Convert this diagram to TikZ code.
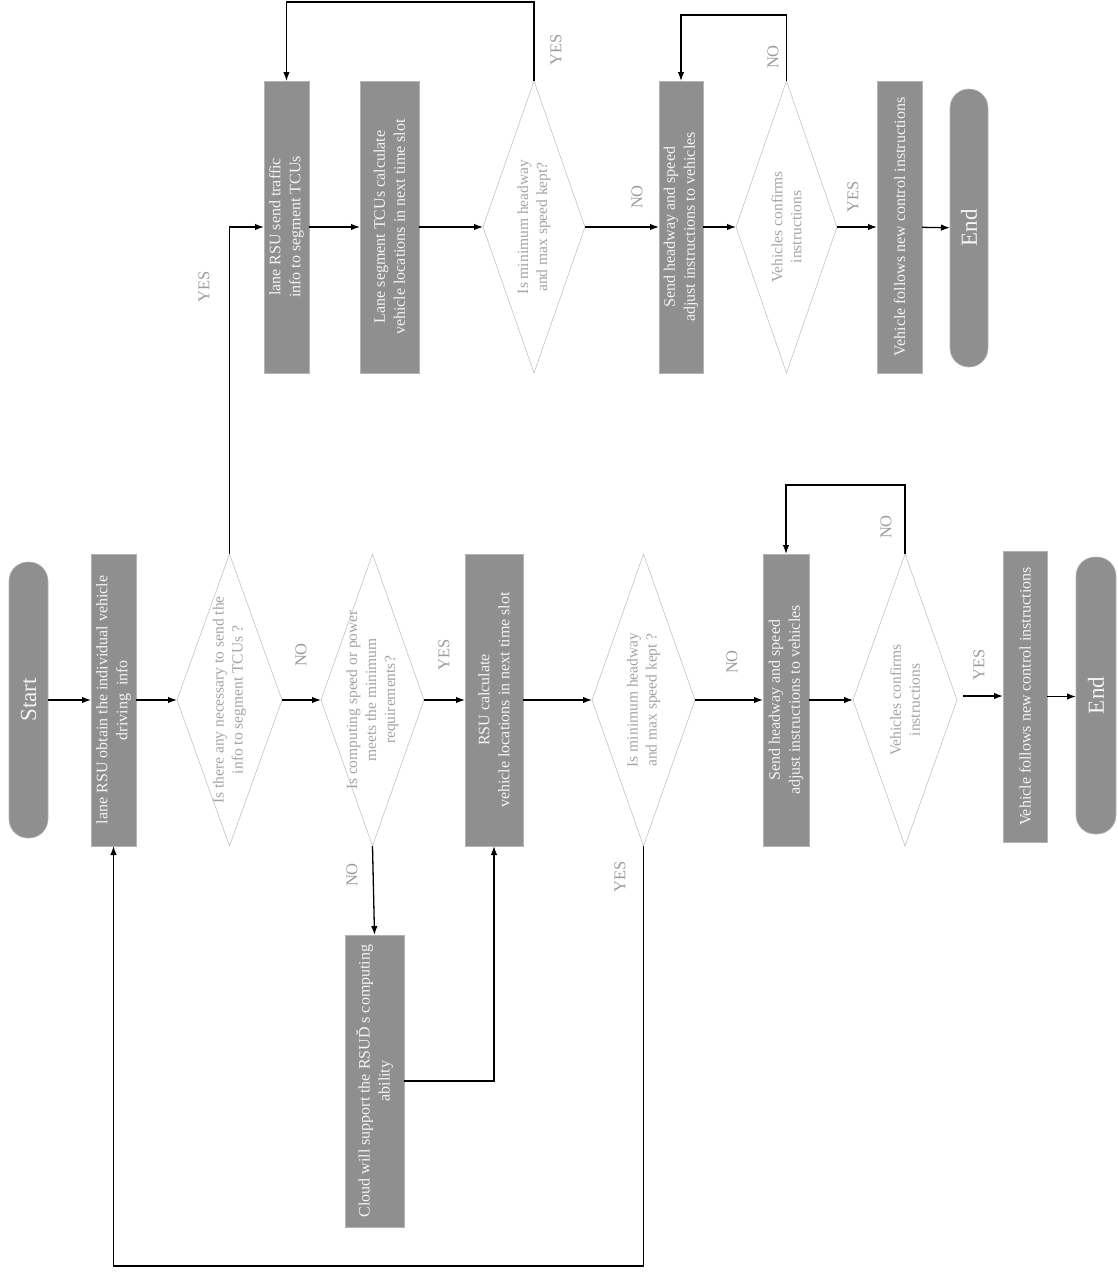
\documentclass[tikz,border=0pt]{standalone}
\usepackage{fontspec}
\setmainfont{Liberation Serif}
\usetikzlibrary{shapes.geometric,arrows.meta}
\definecolor{boxgray}{HTML}{8F8F8F}
\definecolor{boxedge}{HTML}{B4B4B4}
\definecolor{boxtext}{HTML}{F4F4F4}
\definecolor{diaedge}{HTML}{C4C4C4}
\definecolor{diatext}{HTML}{A4A4A4}
\definecolor{lblgray}{HTML}{9C9C9C}
\tikzset{
  procbox/.style={rectangle, fill=boxgray, draw=boxedge, line width=0.8pt, inner sep=0pt, outer sep=0pt},
  termbox/.style={rectangle, fill=boxgray, draw=boxedge, line width=0.6pt, inner sep=0pt, outer sep=0pt, rounded corners=19pt},
  decbox/.style={diamond, draw=diaedge, fill=white, line width=0.6pt, inner sep=0pt, outer sep=0pt},
  btxt/.style={rotate=90, text=boxtext, align=center, inner sep=0pt, font=\fontsize{16}{20}\selectfont},
  dtxt/.style={rotate=90, text=diatext, align=center, inner sep=0pt, font=\fontsize{15.5}{19}\selectfont},
  ttxt/.style={rotate=90, text=boxtext, inner sep=0pt, font=\fontsize{23}{27}\selectfont},
  lbl/.style={rotate=90, text=lblgray, inner sep=0pt, font=\fontsize{16.5}{19}\selectfont},
  arr/.style={-{Latex[length=9pt,width=6.5pt]}, line width=1.3pt, black},
}
\begin{document}
\begin{tikzpicture}[x=1pt,y=-1pt]
\useasboundingbox (0,0) rectangle (1117,1272);
% ---------- bottom row ----------
\node[termbox, minimum width=39pt, minimum height=276pt] (start) at (28.5,700) {};
\node[ttxt] (startt) at (start) {Start};
\node[procbox, minimum width=45pt, minimum height=292pt] (b1) at (113.5,700) {};
\node[btxt] (b1t) at (b1) {lane RSU obtain the individual vehicle\\driving\ \ info};
\node[decbox, minimum width=105pt, minimum height=292pt] (d1) at (229.5,700) {};
\node[dtxt] (d1t) at (d1) {Is there any necessary to send the\\info to segment TCUs ?};
\node[decbox, minimum width=103pt, minimum height=292pt] (d2) at (372.5,700) {};
\node[dtxt] (d2t) at (d2) {Is computing speed or power\\meets the minimum\\requirements?};
\node[procbox, minimum width=58pt, minimum height=292pt] (rsu) at (494,700) {};
\node[btxt] (rsut) at (rsu) {RSU calculate\\vehicle locations in next time slot};
\node[decbox, minimum width=103pt, minimum height=292pt] (d3) at (643.5,700) {};
\node[dtxt] (d3t) at (d3) {Is minimum headway\\and max speed kept ?};
\node[procbox, minimum width=46pt, minimum height=292pt] (send) at (786,700) {};
\node[btxt] (sendt) at (send) {Send headway and speed\\adjust instructions to vehicles};
\node[decbox, minimum width=104pt, minimum height=292pt] (d4) at (905,700) {};
\node[dtxt] (d4t) at (d4) {Vehicles confirms\\instructions};
\node[procbox, minimum width=44pt, minimum height=291pt] (fol) at (1025,696.5) {};
\node[btxt] (folt) at (fol) {Vehicle follows new control instructions};
\node[termbox, minimum width=40pt, minimum height=277pt] (end) at (1096,695.5) {};
\node[ttxt] (endt) at (end) {End};
\node[procbox, minimum width=59pt, minimum height=292pt] (cloud) at (374.5,1081) {};
\node[btxt] (cloudt) at (cloud) {Cloud will support the RSUĎ s computing\\ability};
% ---------- top row ----------
\node[procbox, minimum width=45pt, minimum height=292pt] (t1) at (286.5,227) {};
\node[btxt] (t1t) at (t1) {lane RSU send traffic\\info to segment TCUs};
\node[procbox, minimum width=59pt, minimum height=292pt] (t2) at (389.5,227) {};
\node[btxt] (t2t) at (t2) {Lane segment TCUs calculate\\vehicle locations in next time slot};
\node[decbox, minimum width=102pt, minimum height=292pt] (t3) at (534,227) {};
\node[dtxt] (t3t) at (t3) {Is minimum headway\\and max speed kept?};
\node[procbox, minimum width=44pt, minimum height=292pt] (t4) at (681,227) {};
\node[btxt] (t4t) at (t4) {Send headway and speed\\adjust instructions to vehicles};
\node[decbox, minimum width=101pt, minimum height=292pt] (t5) at (786.5,227) {};
\node[dtxt] (t5t) at (t5) {Vehicles confirms\\instructions};
\node[procbox, minimum width=45pt, minimum height=292pt] (t6) at (899.5,227) {};
\node[btxt] (t6t) at (t6) {Vehicle follows new control instructions};
\node[termbox, minimum width=38pt, minimum height=278pt] (t7) at (969,228) {};
\node[ttxt] (t7t) at (t7) {End};
% ---------- helper coordinates ----------
\coordinate (yesstart) at (963,696);
\coordinate (c1) at (229.5,227);
\coordinate (c2) at (494,1081);
\coordinate (c3) at (643.5,1266);
\coordinate (c4) at (113.5,1266);
\coordinate (c5) at (905,485);
\coordinate (c6) at (786,485);
\coordinate (c7) at (534,2);
\coordinate (c8) at (286.5,2);
\coordinate (c9) at (786.5,15);
\coordinate (c10) at (681,15);
% ---------- connectors bottom ----------
\draw[arr] (start) -- (b1);
\draw[arr] (b1) -- (d1);
\draw[arr] (d1) -- (d2);
\draw[arr] (d2) -- (rsu);
\draw[arr] (rsu) -- (d3);
\draw[arr] (d3) -- (send);
\draw[arr] (send) -- (d4);
\draw[arr] (yesstart) -- (fol.west|-yesstart);
\draw[arr] (fol) -- (end.west|-fol);
\draw[arr] (d1.north) -- (c1) -- (t1.west);
\draw[arr] (d2.south) -- (cloud.north);
\draw[arr] (cloud.east|-c2) -- (c2) -- (rsu.south);
\draw[arr] (d3.south) -- (c3) -- (c4) -- (b1.south);
\draw[arr] (d4.north) -- (c5) -- (c6) -- (send.north);
% ---------- connectors top ----------
\draw[arr] (t1) -- (t2);
\draw[arr] (t2) -- (t3);
\draw[arr] (t3) -- (t4);
\draw[arr] (t4) -- (t5);
\draw[arr] (t5) -- (t6);
\draw[arr] (t6) -- (t7);
\draw[arr] (t3.north) -- (c7) -- (c8) -- (t1.north);
\draw[arr] (t5.north) -- (c9) -- (c10) -- (t4.north);
% ---------- labels ----------
\node[lbl] (l1) at (301,655) {NO};
\node[lbl] (l2) at (444,655) {YES};
\node[lbl] (l3) at (732,662) {NO};
\node[lbl] (l4) at (979,665) {YES};
\node[lbl] (l5) at (886,527) {NO};
\node[lbl] (l6) at (352,875) {NO};
\node[lbl] (l7) at (620,877) {YES};
\node[lbl] (l8) at (204,287) {YES};
\node[lbl] (l9) at (556,50) {YES};
\node[lbl] (l10) at (637,197) {NO};
\node[lbl] (l11) at (773,57) {NO};
\node[lbl] (l12) at (853,197) {YES};
\end{tikzpicture}
\end{document}
